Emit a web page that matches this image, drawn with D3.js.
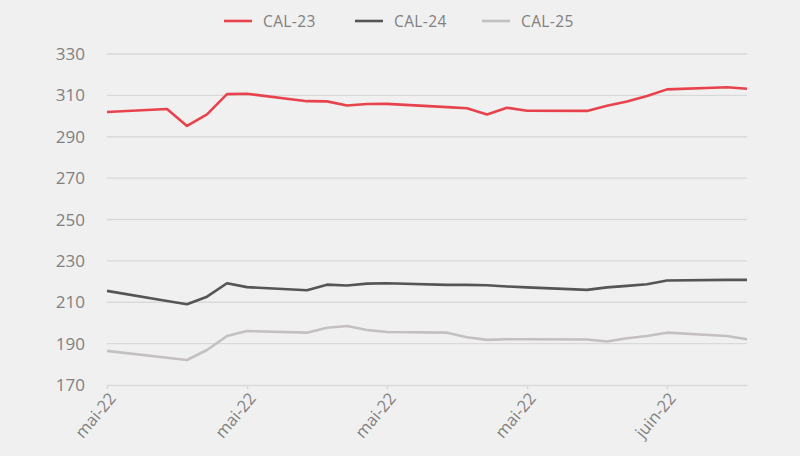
<!DOCTYPE html>
<html>
<head>
<meta charset="utf-8">
<script src="https://cdn.jsdelivr.net/npm/d3@7"></script>
<style>
  html, body { margin: 0; padding: 0; background: #f0f0f0; }
  svg { display: block; font-family: "Open Sans", sans-serif; }
</style>
</head>
<body>
<svg id="chart" width="800" height="456"></svg>
<script>
const dates = ["2022-05-06","2022-05-09","2022-05-10","2022-05-11","2022-05-12","2022-05-13",
  "2022-05-16","2022-05-17","2022-05-18","2022-05-19","2022-05-20",
  "2022-05-23","2022-05-24","2022-05-25","2022-05-26","2022-05-27",
  "2022-05-30","2022-05-31","2022-06-01","2022-06-02","2022-06-03",
  "2022-06-06","2022-06-07"];
const cal23 = [302.0,303.4,295.2,300.8,310.6,310.8, 307.2,307.1,305.1,305.8,305.9, 304.3,303.8,300.8,304.0,302.6, 302.5,305.0,307.0,309.7,312.9, 313.9,313.2];
const cal24 = [215.5,210.6,209.0,212.7,219.2,217.3, 215.8,218.5,218.1,219.0,219.2, 218.4,218.4,218.2,217.6,217.2, 216.0,217.2,217.9,218.7,220.5, 220.8,220.8];
const cal25 = [186.5,183.2,182.1,186.9,193.7,196.1, 195.3,197.7,198.5,196.6,195.6, 195.3,193.1,191.8,192.1,192.1, 192.0,191.0,192.6,193.7,195.3, 193.7,192.1];
const seriesNames = ["CAL-23","CAL-24","CAL-25"];
const seriesColors = ["#e8434c","#555555","#c4c0c0"];
const yTicks = [170,190,210,230,250,270,290,310,330];
const xTickDates = ["2022-05-06","2022-05-13","2022-05-20","2022-05-27","2022-06-03"];
const xTickLabels = ["mai-22","mai-22","mai-22","mai-22","juin-22"];

const parse = d3.utcParse("%Y-%m-%d");
const svg = d3.select("#chart");
const x = d3.scaleUtc().domain([parse(dates[0]), parse(dates[dates.length-1])]).range([107, 747]);
const y = d3.scaleLinear().domain([170, 330]).range([385, 54]);

// gridlines
svg.append("g").selectAll("line").data(yTicks.filter(t => t !== 170)).join("line")
  .attr("x1", x.range()[0]).attr("x2", x.range()[1])
  .attr("y1", d => y(d)).attr("y2", d => y(d))
  .attr("stroke", "#d9d9d9").attr("stroke-width", 1.3);

// y labels
svg.append("g").selectAll("text").data(yTicks).join("text")
  .attr("x", 85).attr("y", d => y(d)).attr("dy", "0.36em")
  .attr("text-anchor", "end").attr("fill", "#808080")
  .attr("font-size", 17).text(d => d);

// x axis
const xTickVals = xTickDates.map(parse);
const xAxis = d3.axisBottom(x).tickValues(xTickVals)
  .tickFormat((d, i) => xTickLabels[i]).tickSize(4).tickSizeOuter(0);
const gx = svg.append("g").attr("transform", `translate(0,${y(170)})`).call(xAxis);
gx.select(".domain").attr("stroke", "#d9d9d9").attr("stroke-width", 1.5);
gx.selectAll(".tick line").attr("stroke", "#d9d9d9").attr("stroke-width", 1.5);
gx.selectAll(".tick text")
  .attr("fill", "#808080").attr("font-size", 16.5).attr("font-family", "Open Sans, sans-serif")
  .attr("text-anchor", "end").attr("dy", "0.35em")
  .attr("transform", "translate(5,10) rotate(-50)").attr("y", 0).attr("x", 0);

// lines
const allSeries = [cal23, cal24, cal25];
const line = d3.line().x((d, i) => x(parse(dates[i]))).y(d => y(d));
allSeries.forEach((vals, k) => {
  svg.append("path").datum(vals)
    .attr("fill", "none").attr("stroke", seriesColors[k])
    .attr("stroke-width", 2.6).attr("stroke-linejoin", "round")
    .attr("d", line);
});

// legend
const legendX = [224, 355, 482];
const lg = svg.append("g");
seriesNames.forEach((name, k) => {
  lg.append("line").attr("x1", legendX[k]).attr("x2", legendX[k] + 28)
    .attr("y1", 21).attr("y2", 21)
    .attr("stroke", seriesColors[k]).attr("stroke-width", 2.6);
  lg.append("text").attr("x", legendX[k] + 39).attr("y", 21).attr("dy", "0.36em")
    .attr("fill", "#808080").attr("font-size", 15.5).attr("letter-spacing", 0.4).text(name);
});
</script>
</body>
</html>
